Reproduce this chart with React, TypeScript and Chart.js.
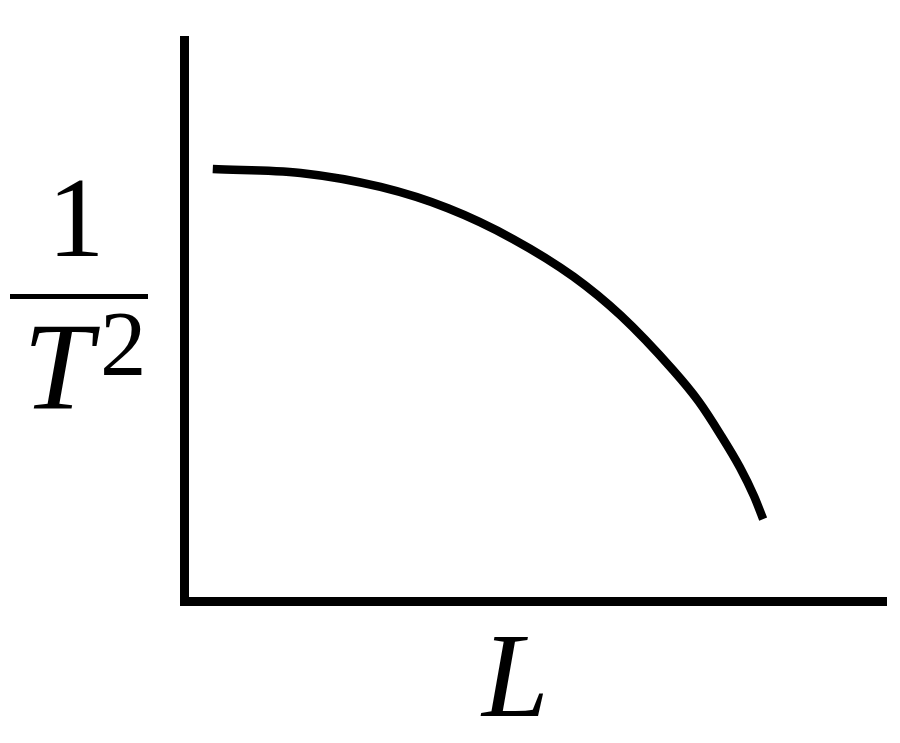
import React, { useEffect, useRef } from 'react';
import { Chart, registerables } from 'chart.js';

Chart.register(...registerables);

// L (arbitrary units, axis 0..10)
const lengths = [0.41, 1.66, 2.8, 3.76, 4.69, 5.55, 6.22, 6.97, 7.33, 7.64, 7.92, 8.12, 8.25];
// 1/T^2 (arbitrary units, axis 0..10)
const invPeriodSq = [7.7, 7.63, 7.38, 7.0, 6.45, 5.78, 5.09, 4.11, 3.56, 2.97, 2.38, 1.87, 1.46];

const xLabel = 'L';
const yNumerator = '1';
const yBase = 'T';
const yPower = '2';

const serif = '"Liberation Serif", "DejaVu Serif", serif';

const App: React.FC = () => {
  const canvasRef = useRef<HTMLCanvasElement>(null);

  useEffect(() => {
    if (!canvasRef.current) return;
    const chart = new Chart(canvasRef.current, {
      type: 'line',
      data: {
        datasets: [
          {
            data: lengths.map((l, i) => ({ x: l, y: invPeriodSq[i] })),
            borderColor: '#000',
            borderWidth: 8.5,
            pointRadius: 0,
            cubicInterpolationMode: 'monotone',
            fill: false,
          },
        ],
      },
      options: {
        animation: false,
        responsive: true,
        maintainAspectRatio: false,
        layout: { padding: { left: 176, top: 40, right: 14, bottom: 134 } },
        plugins: { legend: { display: false }, tooltip: { enabled: false } },
        scales: {
          x: {
            type: 'linear',
            min: 0,
            max: 10,
            grid: { display: false },
            ticks: { display: false },
            border: { display: true, color: '#000', width: 9 },
          },
          y: {
            type: 'linear',
            min: 0,
            max: 10,
            grid: { display: false },
            ticks: { display: false },
            border: { display: true, color: '#000', width: 9 },
          },
        },
      },
    });
    return () => chart.destroy();
  }, []);

  return (
    <div style={{ position: 'fixed', left: 0, top: 0, width: 900, height: 743, background: '#fff' }}>
      <canvas ref={canvasRef}></canvas>
      {/* y-axis label as a fraction */}
      <div style={{ position: 'absolute', left: 26, top: 161, width: 100, textAlign: 'center', fontFamily: serif, fontSize: 114, lineHeight: '114px' }}>
        {yNumerator}
      </div>
      <div style={{ position: 'absolute', left: 10, top: 294, width: 138, height: 5, background: '#000' }} />
      <div style={{ position: 'absolute', left: 23, top: 305, fontFamily: serif, fontSize: 125, lineHeight: '125px', fontStyle: 'italic', whiteSpace: 'nowrap' }}>
        {yBase}
      </div>
      <div style={{ position: 'absolute', left: 100, top: 297, fontFamily: serif, fontSize: 93, lineHeight: '93px' }}>
        {yPower}
      </div>
      <div style={{ position: 'absolute', left: 482, top: 616, fontFamily: serif, fontSize: 120, lineHeight: '120px', fontStyle: 'italic' }}>
        {xLabel}
      </div>
    </div>
  );
};

export default App;
